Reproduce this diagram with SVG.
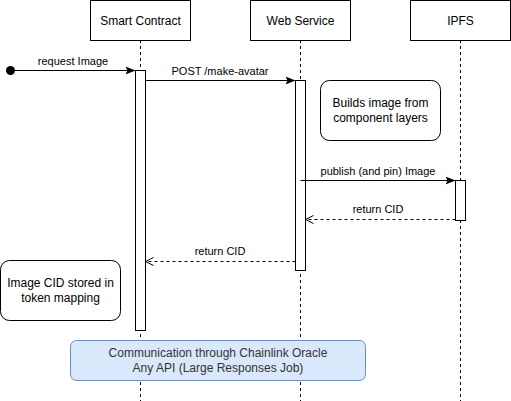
<svg xmlns="http://www.w3.org/2000/svg" width="511" height="401" viewBox="0 0 511 401">
<defs>
<style>
text{font-family:"Liberation Sans",Arial,sans-serif;fill:#000}
.box{fill:#fff;stroke:#000;stroke-width:1}
.life{stroke:#000;stroke-width:1;stroke-dasharray:3 3;fill:none}
.msg{stroke:#000;stroke-width:1;fill:none}
.ret{stroke:#000;stroke-width:1;fill:none;stroke-dasharray:3 3}
.lbl{font-size:11px;text-anchor:middle}
.t12{font-size:12px;text-anchor:middle}
</style>
<marker id="filled" viewBox="0 0 10 10" refX="10" refY="5" markerWidth="10" markerHeight="10" markerUnits="userSpaceOnUse" orient="auto">
<path d="M0,1 L10,5 L0,9 L2,5 Z" fill="#000"/>
</marker>
<marker id="open" viewBox="0 0 10 10" refX="10" refY="5" markerWidth="10" markerHeight="10" markerUnits="userSpaceOnUse" orient="auto">
<path d="M2,1 L10,5 L2,9" fill="none" stroke="#000" stroke-width="1"/>
</marker>
</defs>
<rect width="511" height="401" fill="#fff"/>
<g id="lifelines">
<line class="life" x1="140.5" y1="40" x2="140.5" y2="401"/>
<line class="life" x1="300.5" y1="40" x2="300.5" y2="401"/>
<line class="life" x1="460.5" y1="40" x2="460.5" y2="401"/>
</g>
<g id="smart-contract">
<rect class="box" x="90.5" y="0.5" width="100" height="40"/>
<text class="t12" x="140.5" y="25">Smart Contract</text>
</g>
<g id="web-service">
<rect class="box" x="250.5" y="0.5" width="100" height="40"/>
<text class="t12" x="300.5" y="25">Web Service</text>
</g>
<g id="ipfs">
<rect class="box" x="410.5" y="0.5" width="100" height="40"/>
<text class="t12" x="460.5" y="25">IPFS</text>
</g>
<g id="sc-activation"><rect class="box" x="135.5" y="70.5" width="10" height="260"/></g>
<g id="ws-activation"><rect class="box" x="295.5" y="80.5" width="10" height="190"/></g>
<g id="ipfs-activation"><rect class="box" x="455.5" y="180.5" width="10" height="40"/></g>
<g id="note-builds">
<rect class="box" x="320.5" y="80.5" width="120" height="60" rx="9" ry="9"/>
<text class="t12" x="380.5" y="107">Builds image from</text>
<text class="t12" x="380.5" y="122">component layers</text>
</g>
<g id="note-stored">
<rect class="box" x="0.5" y="260.5" width="120" height="60" rx="9" ry="9"/>
<text class="t12" x="60.5" y="287">Image CID stored in</text>
<text class="t12" x="60.5" y="302">token mapping</text>
</g>
<g id="chainlink-note">
<rect x="70.5" y="340.5" width="295" height="40" rx="6" ry="6" fill="#dae8fc" stroke="#6c8ebf"/>
<text class="t12" x="218" y="357" style="fill:#333">Communication through Chainlink Oracle</text>
<text class="t12" x="218" y="372" style="fill:#333">Any API (Large Responses Job)</text>
</g>
<g id="connectors">
<circle cx="10.5" cy="70.5" r="4.5" fill="#000"/>
<line class="msg" x1="10.5" y1="70.5" x2="135.5" y2="70.5" marker-end="url(#filled)"/>
<text class="lbl" x="73" y="65">request Image</text>
<line class="msg" x1="145.5" y1="80.5" x2="295.5" y2="80.5" marker-end="url(#filled)"/>
<text class="lbl" x="220" y="75">POST /make-avatar</text>
<line class="msg" x1="300.5" y1="180.5" x2="455.5" y2="180.5" marker-end="url(#filled)"/>
<text class="lbl" x="378" y="175">publish (and pin) Image</text>
<line class="ret" x1="455.5" y1="219.5" x2="305.5" y2="219.5" marker-end="url(#open)"/>
<text class="lbl" x="378" y="213">return CID</text>
<line class="ret" x1="295.5" y1="261.5" x2="145.5" y2="261.5" marker-end="url(#open)"/>
<text class="lbl" x="220" y="255">return CID</text>
</g>
</svg>
